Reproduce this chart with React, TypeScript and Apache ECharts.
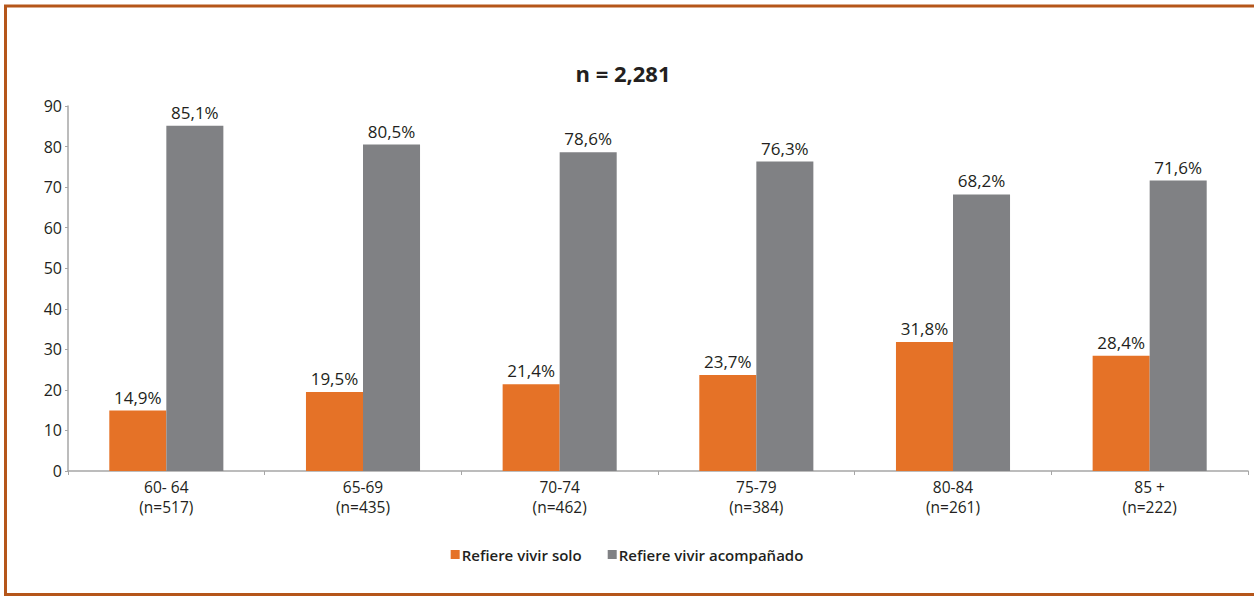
import React, { useEffect, useRef } from "react";
import * as echarts from "echarts";

const categories = ["60- 64\n(n=517)", "65-69\n(n=435)", "70-74\n(n=462)", "75-79\n(n=384)", "80-84\n(n=261)", "85 +\n(n=222)"];
const solo = [14.9, 19.5, 21.4, 23.7, 31.8, 28.4];
const acompanado = [85.1, 80.5, 78.6, 76.3, 68.2, 71.6];
const seriesNames = ["Refiere vivir solo", "Refiere vivir acompañado"];
const titleText = "n = 2,281";

const FONT = "'Open Sans', 'Noto Sans', sans-serif";
const TXT = "#231f20";

export default function App() {
  const ref = useRef<HTMLDivElement>(null);
  useEffect(() => {
    const chart = echarts.init(ref.current!, null, { renderer: "svg" });
    const label = {
      show: true,
      position: "top" as const,
      distance: 5,
      color: TXT,
      fontSize: 17,
      fontFamily: FONT,
      formatter: (p: any) => p.value.toFixed(1).replace(".", ",") + "%",
    };
    chart.setOption({
      animation: false,
      backgroundColor: "#fff",
      title: {
        text: titleText,
        left: 618,
        top: 57,
        textAlign: "center",
        textStyle: { fontSize: 22, fontWeight: "bold", color: TXT, fontFamily: FONT },
      },
      legend: {
        bottom: 32,
        left: "center",
        itemWidth: 9,
        itemHeight: 9,
        itemGap: 26,
        icon: "rect",
        textStyle: { fontSize: 15, fontWeight: 600, color: TXT, fontFamily: FONT, padding: [0, 0, 0, -3] },
        data: seriesNames,
      },
      grid: { left: 68, right: 6, top: 106, bottom: 128, containLabel: false },
      xAxis: {
        type: "category",
        data: categories,
        axisLine: { lineStyle: { color: "#a6a6a6", width: 1.5 } },
        axisTick: { show: true, length: 4, lineStyle: { color: "#a6a6a6" } },
        axisLabel: { color: TXT, fontSize: 15.5, fontFamily: FONT, lineHeight: 20, margin: 6 },
      },
      yAxis: {
        type: "value",
        min: 0,
        max: 90,
        interval: 10,
        splitLine: { show: false },
        axisLine: { show: true, lineStyle: { color: "#a6a6a6", width: 1.5 } },
        axisTick: { show: true, length: 3, lineStyle: { color: "#a6a6a6" } },
        axisLabel: { color: TXT, fontSize: 16, fontFamily: FONT, margin: 6 },
      },
      series: [
        {
          name: seriesNames[0],
          type: "bar",
          data: solo,
          barGap: "0%",
          barCategoryGap: "42%",
          itemStyle: { color: "#e57227" },
          label,
        },
        {
          name: seriesNames[1],
          type: "bar",
          data: acompanado,
          barGap: "0%",
          barCategoryGap: "42%",
          itemStyle: { color: "#808184" },
          label,
        },
      ],
      graphic: [
        {
          type: "polyline",
          shape: { points: [[1254, 6], [5.5, 6], [5.5, 594.5], [1254, 594.5]] },
          style: { stroke: "#b5561a", lineWidth: 3, fill: null },
        },
      ],
    });
    return () => chart.dispose();
  }, []);
  return <div ref={ref} style={{ position: "fixed", left: 0, top: 0, width: 1254, height: 599 }} />;
}
